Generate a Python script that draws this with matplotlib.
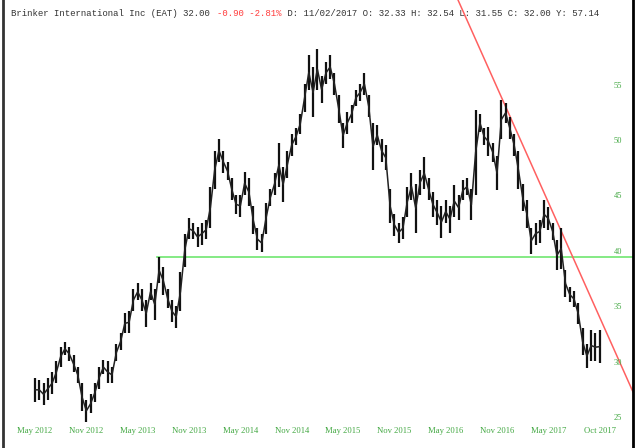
import numpy as np
import matplotlib
matplotlib.use("Agg")
import matplotlib.pyplot as plt

# half-month bars, x in months since May 2012
lows = [26.8, 27.0, 26.5, 27.0, 27.5, 28.5, 30.0, 31.0, 30.5, 29.5,
        28.5, 26.0, 25.0, 25.8, 26.8, 28.0, 29.3, 28.5, 28.5, 30.5,
        31.5, 33.0, 33.0, 35.0, 36.0, 35.0, 33.6, 36.0, 34.2, 37.5,
        36.5, 35.3, 34.0, 33.5, 35.0, 39.0, 41.5, 41.5, 40.8, 41.0,
        41.5, 42.5, 46.0, 48.5, 47.5, 46.8, 45.0, 43.8, 43.5, 45.5,
        44.5, 42.0, 40.5, 40.3, 42.0, 44.5, 45.5, 46.2, 44.9, 47.0,
        49.0, 50.0, 51.0, 53.0, 55.0, 52.5, 55.0, 53.8, 55.5, 56.0,
        54.5, 52.0, 49.7, 51.0, 52.0, 53.5, 54.0, 54.5, 52.5, 47.7,
        50.0, 48.5, 47.7, 43.0, 41.8, 41.2, 41.5, 43.5, 45.0, 42.1,
        45.5, 46.0, 45.0, 43.5, 42.8, 41.6, 43.0, 42.1, 43.5, 43.2,
        45.0, 45.5, 43.2, 45.5, 51.2, 50.0, 49.0, 48.5, 45.9, 50.5,
        52.0, 50.5, 49.0, 46.0, 44.0, 42.5, 40.2, 41.0, 41.2, 42.5,
        42.3, 41.4, 38.7, 38.8, 36.3, 35.8, 35.4, 33.8, 31.0, 29.9,
        30.5, 30.5, 30.3]
highs = [29.0, 28.8, 28.5, 29.0, 29.5, 30.5, 31.8, 32.2, 31.8, 31.0,
         30.0, 28.5, 27.0, 27.5, 28.5, 30.0, 30.6, 30.5, 30.0, 32.0,
         33.0, 34.8, 35.0, 37.0, 37.5, 37.0, 36.0, 37.5, 37.0, 39.9,
         39.0, 37.0, 36.0, 35.5, 38.5, 42.0, 43.4, 43.0, 42.6, 43.0,
         43.2, 46.2, 49.5, 50.5, 49.5, 48.5, 47.0, 45.5, 45.5, 47.6,
         47.0, 44.5, 42.5, 42.0, 44.8, 46.0, 47.5, 50.2, 48.0, 49.5,
         51.0, 51.5, 52.8, 55.5, 58.1, 57.0, 58.7, 56.2, 57.5, 58.1,
         56.5, 54.5, 52.0, 53.0, 53.6, 55.0, 55.5, 56.5, 54.5, 52.0,
         51.8, 50.5, 50.0, 46.0, 43.8, 43.0, 43.5, 46.2, 47.5, 46.5,
         47.7, 48.9, 47.0, 45.8, 45.0, 44.5, 45.0, 44.5, 46.4, 45.5,
         46.8, 47.0, 46.0, 53.2, 52.8, 51.5, 51.6, 50.2, 49.0, 54.1,
         53.8, 52.5, 51.0, 49.5, 46.5, 45.0, 42.5, 43.0, 43.2, 45.0,
         44.4, 43.0, 41.4, 42.5, 38.7, 37.2, 36.8, 35.7, 33.5, 32.0,
         33.3, 33.0, 33.3]
months = np.arange(len(lows)) * 0.5

month_labels = ["May 2012", "Nov 2012", "May 2013", "Nov 2013", "May 2014",
                "Nov 2014", "May 2015", "Nov 2015", "May 2016", "Nov 2016",
                "May 2017", "Oct 2017"]
month_label_pos = [0, 6, 12, 18, 24, 30, 36, 42, 48, 54, 60, 66]
price_ticks = [25, 30, 35, 40, 45, 50, 55]

support_level = 39.9
support_start = 14.3
trend_x = [49.44, 69.89]
trend_y = [63.09, 27.71]

title_parts = [("Brinker International Inc (EAT) 32.00 ", "#333333"),
               ("-0.90 -2.81%", "#ff3b3b"),
               (" D: 11/02/2017 O: 32.33 H: 32.54 L: 31.55 C: 32.00 Y: 57.14", "#333333")]

fig = plt.figure(figsize=(6.4, 4.48), dpi=100)
ax = fig.add_axes([3 / 640, 0, 630 / 640, 1])
xmin, xmax = -3.74, 69.89
ax.set_xlim(xmin, xmax)
ax.set_ylim(22.65, 63.09)

# price bars
lows_a = np.array(lows)
highs_a = np.array(highs)
ax.vlines(months, lows_a, highs_a, color="#111111", lw=1.6, zorder=3)
ax.plot(months, (lows_a + highs_a) / 2, color="#222222", lw=1.1, zorder=3)

ax.plot([support_start, xmax], [support_level, support_level], color="#6fe66f", lw=1.2, zorder=2)
ax.plot(trend_x, trend_y, color="#ff6060", lw=1.1, zorder=2)

for p in price_ticks:
    ax.text(0.976, p, str(p), transform=ax.get_yaxis_transform(), ha="center",
            va="bottom", fontsize=6, family="Liberation Serif", color="#43a843")
for m, lab in zip(month_label_pos, month_labels):
    ax.text(m, 24.15, lab, ha="center", va="center", fontsize=6.2,
            family="Liberation Serif", color="#43a843")

ax.set_xticks([])
ax.set_yticks([])
ax.spines["top"].set_visible(False)
ax.spines["bottom"].set_visible(False)
ax.spines["left"].set_color("#333333")
ax.spines["left"].set_linewidth(2)
ax.spines["right"].set_color("black")
ax.spines["right"].set_linewidth(2)

# title, monospace, coloured pieces
char_w = 5.42
n = 0
for txt, col in title_parts:
    fig.text((11 + n * char_w) / 640, 1 - 13 / 448, txt, ha="left", va="center",
             fontsize=6.5, family="Liberation Mono", color=col)
    n += len(txt)

fig.savefig("out.png", dpi=100, facecolor="white")
